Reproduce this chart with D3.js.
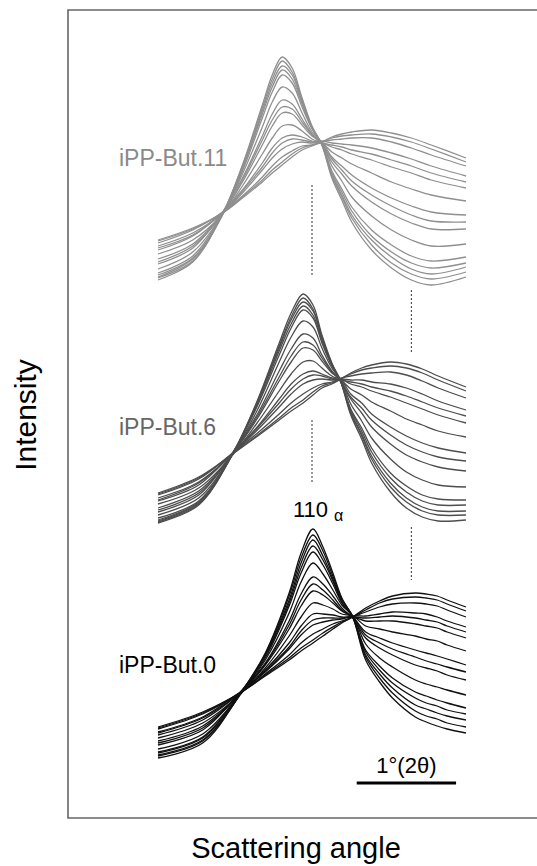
<!DOCTYPE html>
<html>
<head>
<meta charset="utf-8">
<script src="https://cdn.jsdelivr.net/npm/d3@7"></script>
<style>
  body { margin: 0; background: #fff; }
  svg { display: block; font-family: "Liberation Sans", Arial, sans-serif; }
</style>
</head>
<body>
<main></main>
<script>
// 2θ sample positions (deg) for each sample
const anglesBut11 = [12.45, 12.8, 13.1, 13.3, 13.5, 13.6, 13.7, 13.8, 13.9, 14.0, 14.1, 14.2, 14.3, 14.4, 14.6, 14.8, 15.0, 15.2, 15.55];
const anglesBut6 = [12.45, 12.86, 13.2, 13.44, 13.67, 13.79, 13.91, 14.01, 14.1, 14.2, 14.29, 14.39, 14.5, 14.6, 14.79, 14.95, 15.11, 15.27, 15.55];
const anglesBut0 = [12.45, 12.9, 13.29, 13.53, 13.77, 13.89, 14.01, 14.11, 14.21, 14.3, 14.41, 14.54, 14.68, 14.81, 15.04, 15.15, 15.26, 15.36, 15.55];

// intensity (a.u.) of each pattern, from crystalline to molten
const curvesBut11 = [
  [10, 28, 76, 125, 185, 215, 233, 222, 192, 164, 145, 112, 90, 68, 40, 22, 10, 5, 13],
  [12, 29, 76, 124, 182, 211, 229, 218, 190, 163, 145, 114, 93, 72, 45, 27, 16, 11, 18],
  [13, 31, 75, 122, 179, 207, 224, 215, 188, 162, 146, 115, 95, 75, 50, 33, 21, 16, 23],
  [15, 32, 76, 121, 176, 203, 220, 211, 186, 162, 145, 117, 98, 79, 54, 38, 27, 22, 27],
  [17, 34, 77, 119, 172, 198, 215, 207, 183, 161, 146, 119, 101, 83, 60, 45, 34, 29, 33],
  [21, 38, 76, 116, 163, 188, 203, 197, 177, 158, 147, 124, 109, 93, 74, 60, 50, 44, 46],
  [26, 42, 78, 112, 154, 176, 190, 186, 171, 156, 146, 128, 116, 104, 88, 76, 67, 61, 61],
  [28, 44, 76, 110, 150, 170, 183, 181, 168, 155, 146, 131, 120, 109, 95, 84, 75, 69, 68],
  [31, 46, 77, 108, 145, 164, 177, 176, 165, 154, 148, 133, 124, 115, 102, 92, 84, 78, 75],
  [36, 50, 76, 104, 136, 152, 164, 165, 159, 151, 147, 138, 132, 126, 117, 108, 101, 95, 89],
  [40, 54, 78, 100, 127, 142, 152, 155, 153, 149, 147, 143, 140, 136, 130, 123, 117, 110, 102],
  [42, 55, 77, 99, 123, 137, 147, 151, 150, 148, 147, 145, 143, 140, 136, 130, 124, 117, 108],
  [44, 57, 77, 97, 120, 132, 141, 146, 148, 147, 149, 147, 146, 145, 142, 137, 131, 124, 114],
  [47, 60, 78, 94, 113, 124, 133, 139, 144, 145, 148, 150, 151, 152, 152, 148, 142, 135, 124],
  [49, 61, 77, 93, 110, 120, 128, 136, 142, 145, 148, 152, 154, 155, 156, 153, 148, 141, 128],
  [50, 62, 77, 92, 108, 117, 125, 133, 140, 144, 148, 153, 156, 158, 160, 157, 152, 145, 132]
];
const curvesBut6 = [
  [2, 20, 71, 122, 182, 212, 231, 220, 190, 162, 143, 110, 86, 62, 33, 17, 8, 4, 5],
  [3, 21, 71, 121, 179, 208, 227, 216, 188, 161, 143, 112, 89, 66, 38, 23, 14, 10, 10],
  [4, 22, 70, 120, 177, 205, 223, 214, 186, 161, 144, 113, 91, 69, 42, 27, 18, 14, 14],
  [5, 23, 71, 118, 174, 201, 219, 210, 184, 160, 143, 115, 94, 73, 47, 33, 24, 20, 20],
  [7, 24, 72, 117, 170, 197, 215, 207, 182, 159, 143, 116, 97, 77, 52, 39, 30, 26, 25],
  [10, 27, 71, 113, 163, 188, 204, 198, 177, 157, 145, 121, 104, 87, 66, 53, 45, 40, 38],
  [13, 30, 72, 109, 154, 176, 191, 187, 170, 154, 144, 126, 112, 98, 81, 70, 63, 58, 54],
  [15, 32, 71, 107, 148, 169, 183, 180, 167, 153, 144, 128, 117, 105, 90, 80, 73, 68, 64],
  [17, 34, 71, 105, 144, 163, 177, 175, 164, 152, 146, 131, 122, 111, 98, 89, 82, 77, 72],
  [21, 37, 70, 101, 134, 151, 163, 164, 157, 149, 145, 136, 130, 123, 114, 106, 100, 94, 88],
  [24, 40, 72, 97, 126, 141, 151, 154, 151, 147, 146, 141, 138, 134, 128, 122, 116, 110, 102],
  [25, 42, 71, 96, 122, 136, 146, 150, 149, 146, 145, 143, 141, 138, 134, 129, 123, 117, 109],
  [27, 43, 71, 94, 118, 131, 141, 145, 146, 145, 146, 145, 145, 143, 141, 137, 131, 124, 115],
  [30, 46, 72, 91, 111, 122, 131, 137, 141, 143, 147, 149, 151, 152, 153, 150, 144, 137, 127],
  [31, 47, 71, 89, 107, 117, 125, 133, 139, 142, 146, 151, 155, 157, 159, 157, 152, 145, 134],
  [32, 48, 71, 88, 105, 114, 122, 130, 137, 141, 146, 152, 157, 160, 163, 161, 156, 149, 138]
];
const curvesBut0 = [
  [2, 17, 68, 107, 167, 207, 231, 213, 187, 162, 143, 100, 78, 62, 43, 38, 34, 31, 27],
  [4, 19, 68, 106, 164, 202, 225, 209, 184, 161, 143, 103, 82, 67, 49, 44, 41, 37, 33],
  [5, 20, 67, 105, 160, 197, 220, 204, 181, 160, 144, 105, 86, 72, 55, 51, 47, 44, 40],
  [7, 22, 68, 104, 157, 192, 214, 200, 179, 158, 143, 108, 90, 77, 62, 57, 54, 50, 46],
  [8, 23, 69, 102, 154, 187, 208, 195, 176, 157, 143, 110, 94, 82, 68, 64, 60, 57, 52],
  [11, 26, 68, 100, 147, 178, 197, 186, 170, 155, 144, 116, 102, 93, 80, 76, 73, 70, 65],
  [15, 30, 69, 97, 139, 166, 183, 176, 164, 152, 142, 122, 112, 105, 95, 92, 89, 85, 80],
  [17, 32, 68, 96, 135, 160, 176, 170, 160, 150, 143, 125, 117, 111, 103, 99, 96, 93, 88],
  [19, 34, 68, 95, 131, 154, 169, 165, 157, 149, 143, 128, 122, 117, 110, 107, 104, 101, 95],
  [22, 37, 67, 92, 124, 143, 157, 155, 151, 146, 144, 134, 131, 128, 124, 121, 119, 115, 109],
  [25, 40, 68, 90, 117, 134, 146, 146, 145, 143, 143, 139, 139, 139, 136, 134, 132, 128, 122],
  [27, 42, 68, 89, 113, 129, 140, 142, 142, 142, 143, 142, 143, 144, 142, 140, 138, 134, 128],
  [28, 43, 69, 88, 111, 125, 135, 138, 140, 141, 144, 144, 146, 148, 147, 146, 143, 139, 133],
  [31, 46, 68, 86, 105, 117, 126, 131, 136, 139, 143, 148, 153, 156, 157, 156, 154, 150, 143],
  [32, 47, 68, 85, 102, 112, 120, 127, 133, 138, 143, 150, 157, 161, 163, 162, 160, 156, 149],
  [33, 48, 68, 84, 100, 109, 117, 124, 131, 137, 143, 152, 159, 164, 167, 166, 164, 160, 153]
];

const sampleNames = ["iPP-But.11", "iPP-But.6", "iPP-But.0"];
const stackOffsets = [528, 293, 58];   // vertical shift of each stack (a.u.)

// dashed reflection markers: angle and intensity span
const markAngles = [14.0, 14.0, 15.0, 15.0];
const markFrom = [541, 335, 466, 238];
const markTo = [633, 398, 528, 291];

const scaleBarAngles = [14.45, 15.45];

document.addEventListener("DOMContentLoaded", () => {
    const width = 537;
    const height = 866;

    const xScale = d3.scaleLinear()
        .domain([12.45, 15.55])
        .range([158, 466]);

    const yScale = d3.scaleLinear()
        .domain([0, 808])
        .range([818, 10]);

    const svg = d3.select("main")
        .append("svg")
        .attr("width", width)
        .attr("height", height);

    // frame (right side runs off the page)
    svg.append("path")
        .attr("d", `M${width + 5},${yScale(808)} H68 V${yScale(0)} H${width + 5}`)
        .attr("fill", "none")
        .attr("stroke", "#666")
        .attr("stroke-width", 1.6);

    const groups = [
        { angles: anglesBut11, curves: curvesBut11, color: "#8f8f8f", label: "#8a8a8a", ly: 166 },
        { angles: anglesBut6, curves: curvesBut6, color: "#4d4d4d", label: "#666", ly: 435 },
        { angles: anglesBut0, curves: curvesBut0, color: "#111", label: "#000", ly: 673 }
    ];

    groups.forEach((g, gi) => {
        const line = d3.line()
            .x((d, i) => xScale(g.angles[i]))
            .y(d => yScale(d + stackOffsets[gi]))
            .curve(d3.curveCatmullRom.alpha(0.5));

        svg.append("g")
            .selectAll("path")
            .data(g.curves)
            .enter()
            .append("path")
            .attr("d", line)
            .attr("fill", "none")
            .attr("stroke", g.color)
            .attr("stroke-width", 1.3);

        svg.append("text")
            .attr("x", 119)
            .attr("y", g.ly)
            .attr("fill", g.label)
            .style("font-size", "23px")
            .text(sampleNames[gi]);
    });

    // dashed markers
    svg.append("g")
        .selectAll("line")
        .data(markAngles)
        .enter()
        .append("line")
        .attr("x1", d => xScale(d))
        .attr("x2", d => xScale(d))
        .attr("y1", (d, i) => yScale(markTo[i]))
        .attr("y2", (d, i) => yScale(markFrom[i]))
        .attr("stroke", "#333")
        .attr("stroke-width", 1)
        .attr("stroke-dasharray", "2,2");

    // 110α label
    const refl = svg.append("text")
        .attr("x", 293)
        .attr("y", 517)
        .style("font-size", "22px")
        .attr("fill", "#000");
    refl.append("tspan").text("110");
    refl.append("tspan")
        .attr("dx", 6)
        .attr("dy", 4)
        .style("font-size", "16px")
        .text("α");

    // scale bar: 1° in 2θ
    svg.append("line")
        .attr("x1", xScale(scaleBarAngles[0]))
        .attr("x2", xScale(scaleBarAngles[1]))
        .attr("y1", 783)
        .attr("y2", 783)
        .attr("stroke", "#000")
        .attr("stroke-width", 3);

    svg.append("text")
        .attr("x", (xScale(scaleBarAngles[0]) + xScale(scaleBarAngles[1])) / 2)
        .attr("y", 773)
        .attr("text-anchor", "middle")
        .style("font-size", "22px")
        .text("1°(2θ)");

    // axis titles
    svg.append("text")
        .attr("transform", "translate(36,415) rotate(-90)")
        .attr("text-anchor", "middle")
        .style("font-size", "30px")
        .text("Intensity");

    svg.append("text")
        .attr("x", 296)
        .attr("y", 858)
        .attr("text-anchor", "middle")
        .style("font-size", "29px")
        .text("Scattering angle");
});
</script>
</body>
</html>
